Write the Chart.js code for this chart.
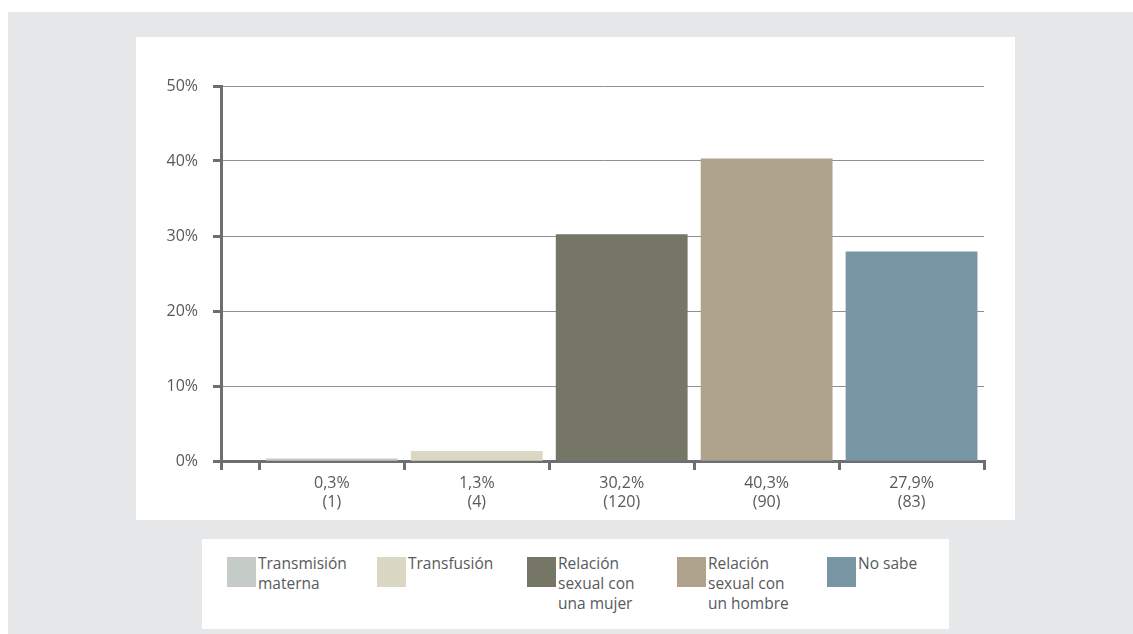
<!DOCTYPE html>
<html lang="es">
<head>
<meta charset="utf-8">
<title>Vía de transmisión</title>
<script src="https://cdn.jsdelivr.net/npm/chart.js@4.4.1/dist/chart.umd.min.js"></script>
<style>
  html, body { margin: 0; padding: 0; background: #ffffff; }
  body { width: 1133px; height: 634px; position: relative; overflow: hidden;
         font-family: "Open Sans", "Noto Sans", sans-serif; color: #58595b; }
  #bg { position: absolute; left: 8px; top: 12px; width: 1125px; height: 622px; background: #e6e7e8; }
  #panel { position: absolute; left: 136px; top: 37px; width: 879px; height: 483px; background: #ffffff; }
  #panel canvas { display: block; }
  #legend { position: absolute; left: 202px; top: 539px; width: 747px; height: 90px; background: #ffffff;
            box-sizing: border-box; padding: 18px 0 0 25px; display: flex; overflow: visible; }
  .item { width: 150px; flex: none; display: flex; align-items: flex-start; }
  .swatch { width: 29px; height: 30px; flex: none; }
  .text { margin-left: 2px; width: 92px; font-size: 15.5px; line-height: 20px; margin-top: -4px; }
</style>
</head>
<body>
<div id="bg"></div>
<div id="panel"><canvas id="chart" width="879" height="483"></canvas></div>
<div id="legend"></div>
<script>
// Categories, shares (%) and case counts
const categories = ['Transmisión materna', 'Transfusión', 'Relación sexual con una mujer', 'Relación sexual con un hombre', 'No sabe'];
const percentages = [0.3, 1.3, 30.2, 40.3, 27.9];
const counts = [1, 4, 120, 90, 83];
const colors = ['#c5cbc6', '#dad8c3', '#767667', '#afa48b', '#7896a3'];
const yTicks = [0, 10, 20, 30, 40, 50];

const TEXT = '#58595b';
const AXIS = '#6d6e71';
const GRID = '#8f9093';
const FONT = { family: '"Open Sans", "Noto Sans", sans-serif', size: 16 };
// Space between the value axis and the first category, in category widths
const AXIS_GAP = 0.265;

const fmt = v => v.toFixed(1).replace('.', ',') + '%';
const isLabelTick = v => Math.abs((v % 1) - 0.5) < 1e-9;

const points = percentages.map((p, i) => ({ x: i + 0.5, y: p }));

new Chart(document.getElementById('chart'), {
  type: 'bar',
  data: {
    datasets: [{
      data: points,
      backgroundColor: colors,
      borderWidth: 0,
      barThickness: 'flex',
      categoryPercentage: 0.905,
      barPercentage: 1
    }]
  },
  options: {
    responsive: false,
    animation: false,
    layout: { padding: { top: 49, right: 31, bottom: 0, left: 0 } },
    plugins: { legend: { display: false }, tooltip: { enabled: false } },
    scales: {
      x: {
        type: 'linear',
        min: -AXIS_GAP,
        max: categories.length,
        offset: false,
        afterBuildTicks: scale => {
          const t = [{ value: -AXIS_GAP }];
          for (let i = 0; i <= categories.length; i++) {
            t.push({ value: i });
            if (i < categories.length) t.push({ value: i + 0.5 });
          }
          scale.ticks = t;
        },
        afterFit: scale => { scale.height = 59; },
        grid: {
          offset: false,
          drawOnChartArea: false,
          tickLength: 9,
          lineWidth: 3,
          tickWidth: 3,
          color: ctx => (ctx.tick && isLabelTick(ctx.tick.value)) ? 'rgba(0,0,0,0)' : AXIS,
          tickColor: ctx => (ctx.tick && isLabelTick(ctx.tick.value)) ? 'rgba(0,0,0,0)' : AXIS
        },
        border: { display: true, color: AXIS, width: 3 },
        ticks: {
          autoSkip: false,
          maxRotation: 0,
          minRotation: 0,
          padding: 4,
          color: TEXT,
          font: FONT,
          callback: v => {
            if (!isLabelTick(v)) return '';
            const i = Math.floor(v);
            return [fmt(percentages[i]), '(' + counts[i] + ')'];
          }
        }
      },
      y: {
        min: yTicks[0],
        max: yTicks[yTicks.length - 1],
        afterBuildTicks: scale => { scale.ticks = yTicks.map(v => ({ value: v })); },
        afterFit: scale => { scale.width = 85; },
        grid: {
          color: GRID,
          lineWidth: 1,
          tickLength: 8,
          tickWidth: 3,
          tickColor: AXIS
        },
        border: { display: true, color: AXIS, width: 3 },
        ticks: {
          padding: 15,
          color: TEXT,
          font: FONT,
          callback: v => v + '%'
        }
      }
    }
  }
});

// Legend: one entry per category, same colours as the bars
const legend = document.getElementById('legend');
categories.forEach((name, i) => {
  const item = document.createElement('div');
  item.className = 'item';
  const sw = document.createElement('div');
  sw.className = 'swatch';
  sw.style.background = colors[i];
  const tx = document.createElement('div');
  tx.className = 'text';
  tx.textContent = name;
  item.appendChild(sw);
  item.appendChild(tx);
  legend.appendChild(item);
});
</script>
</body>
</html>
